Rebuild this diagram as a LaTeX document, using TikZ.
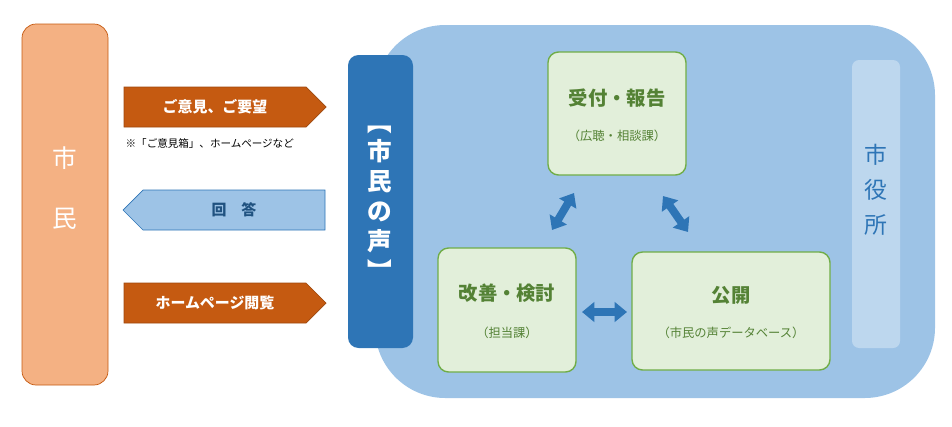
\documentclass[tikz,border=0pt]{standalone}
\usepackage{fontspec}
\setmainfont{Noto Sans CJK JP}
\usetikzlibrary{arrows.meta, positioning, shapes.arrows, calc}
\definecolor{shimin}{HTML}{F4B183}
\definecolor{shiminline}{HTML}{C55A11}
\definecolor{ora}{HTML}{C55A11}
\definecolor{ltblue}{HTML}{9DC3E6}
\definecolor{midblue}{HTML}{2E75B6}
\definecolor{paleblue}{HTML}{BDD7EE}
\definecolor{grfill}{HTML}{E2EFDA}
\definecolor{grline}{HTML}{70AD47}
\definecolor{grtext}{HTML}{548235}
\tikzset{
  px/.style={x=0.02cm, y=-0.02cm},
  flow/.style={single arrow, single arrow head extend=0pt, single arrow head indent=0pt,
    single arrow tip angle=90, minimum width=40*0.02cm, minimum height=202*0.02cm,
    inner sep=0pt, font=\fontsize{8.5}{10}\selectfont\bfseries},
  outflow/.style={flow, fill=ora, draw=ora!80!black, text=white},
  inflow/.style={flow, shape border rotate=180, fill=ltblue, draw=midblue, text=midblue!70!black},
  task/.style={draw=grline, fill=grfill, rounded corners=6pt, thick, align=center},
  ttl/.style={font=\fontsize{11}{13}\selectfont\bfseries, text=grtext},
  sub/.style={font=\fontsize{7}{9}\selectfont, text=grtext},
  dbl/.style={{Triangle[length=7pt,width=11pt]}-{Triangle[length=7pt,width=11pt]}, line width=4.5pt, midblue},
}
\begin{document}
\begin{tikzpicture}[px]
    \useasboundingbox (0,0) rectangle (952,426);
    % citizens
    \draw[fill=shimin, draw=shiminline, rounded corners=8pt] (22,24) rectangle (108,385);
    \node[font=\fontsize{14}{28}\selectfont, text=white, align=center] (shimin) at (65,188) {市\\[6pt]民};
    % city hall area
    \fill[ltblue, rounded corners=40pt] (375,25) rectangle (935,398);
    \fill[midblue, rounded corners=6pt] (348,55) rectangle (413,348);
    \node[font=\fontsize{14}{17}\selectfont\bfseries, text=white, align=center] (koe) at (380,203) {︻\\市\\民\\の\\声\\︼};
    \fill[paleblue, rounded corners=4pt] (852,60) rectangle (900,348);
    \node[font=\fontsize{13}{20}\selectfont, text=midblue, align=center] (shiyakusho) at (876,190) {市\\役\\所};
    % arrows
    \node[outflow] (iken) at (215,107) {ご意見、ご要望};
    \node[font=\fontsize{6}{7}\selectfont, below=3pt of iken, xshift=-3pt] (note) {※「ご意見箱」、ホームページなど};
    \node[inflow] (kaito) at (234,210) {回\quad 答};
    \node[outflow] (hp) at (215,303) {ホームページ閲覧};
    % tasks
    \draw[task] (548,52) rectangle (686,175);
    \node[ttl] (uketsuke) at (617,98) {受付・報告};
    \node[sub] at (617,136) {（広聴・相談課）};
    \draw[task] (438,248) rectangle (576,372);
    \node[ttl] (kaizen) at (507,293) {改善・検討};
    \node[sub] at (507,333) {（担当課）};
    \draw[task] (632,252) rectangle (830,370);
    \node[ttl] (kokai) at (731,295) {公開};
    \node[sub] at (731,333) {（市民の声データベース）};
    % cycle
    \coordinate (a1) at (574,193); \coordinate (a2) at (552,230);
    \coordinate (b1) at (663,196); \coordinate (b2) at (688,232);
    \coordinate (c1) at (582,312); \coordinate (c2) at (627,312);
    \draw[dbl] (a1) -- (a2);
    \draw[dbl] (b1) -- (b2);
    \draw[dbl] (c1) -- (c2);
\end{tikzpicture}
\end{document}
